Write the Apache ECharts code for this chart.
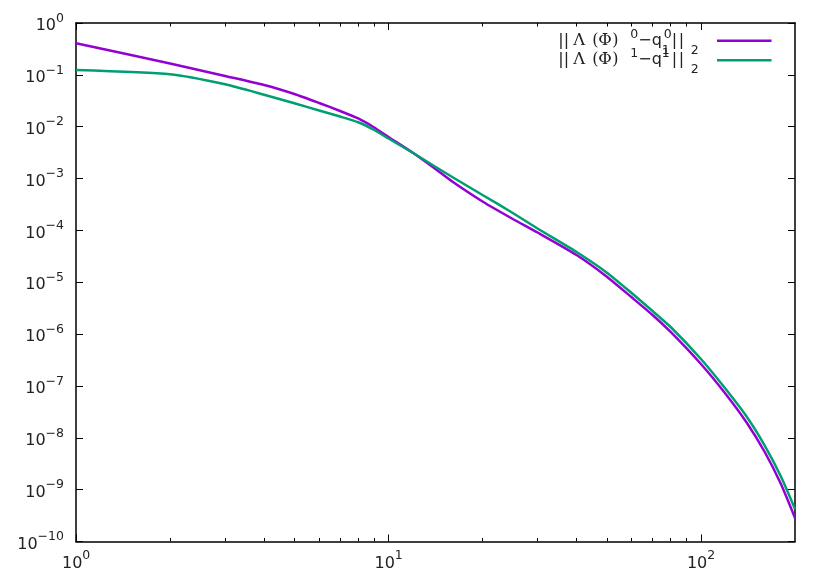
<!DOCTYPE html>
<html>
<head>
<meta charset="utf-8">
<title>convergence</title>
<script src="https://cdn.jsdelivr.net/npm/echarts@6/dist/echarts.min.js"></script>
<style>
  html, body { margin: 0; padding: 0; background: #fff; }
  #chart { width: 830px; height: 581px; }
</style>
</head>
<body>
<div id="chart"></div>
<script>
  var nVals = [1, 2, 3, 4, 5, 6, 7, 8, 9, 10, 12, 14, 16, 20, 25, 30, 40, 50, 60, 70, 80, 100, 120, 140, 160, 180, 200];
  // ||Λ(Φ)^0 - q_1^0||_2
  var err0 = [0.406, 0.1655, 0.095, 0.0637, 0.0427, 0.02865, 0.0201, 0.0144, 0.00965, 0.00633, 0.00311, 0.0016, 8.77e-4, 3.61e-4, 1.66e-4, 9.11e-5, 3.35e-5, 1.28e-5, 5.13e-6, 2.34e-6, 1.1e-6, 2.65e-7, 6.99e-8, 1.97e-8, 5.32e-9, 1.31e-9, 2.84e-10];
  // ||Λ(Φ)^1 - q^1||_2
  var err1 = [0.1241, 0.1025, 0.0657, 0.0414, 0.0283, 0.0205, 0.0157, 0.0122, 0.00864, 0.00592, 0.00311, 0.00175, 0.00107, 4.82e-4, 2.17e-4, 1.09e-4, 3.83e-5, 1.53e-5, 6.2e-6, 2.79e-6, 1.37e-6, 3.31e-7, 8.73e-8, 2.58e-8, 7.1e-9, 1.83e-9, 4.23e-10];

  // tick positions
  var xTicks = [1, 10, 100];
  var xMinorTicks = [2, 3, 4, 5, 6, 7, 8, 9, 20, 30, 40, 50, 60, 70, 80, 90];
  var yTicks = [1e-10, 1e-9, 1e-8, 1e-7, 1e-6, 1e-5, 1e-4, 1e-3, 1e-2, 1e-1, 1];

  var font = 'DejaVu Sans';
  var serif = 'DejaVu Serif';
  var black = '#000';
  var txt = '#222';

  function pair(xs, ys) {
    return xs.map(function (x, i) { return [x, ys[i]]; });
  }

  // 10^k style label, h is an invisible spacer that sets the line height
  function powLabel(v) {
    var e = Math.round(Math.log(v) / Math.LN10);
    var s = e < 0 ? '\u2212' + (-e) : '' + e;
    return '{h| }{b|10}{s|' + s + '}';
  }

  var labelRich = {
    h: { fontFamily: font, fontSize: 1, lineHeight: 22 },
    b: { fontFamily: font, fontSize: 16, lineHeight: 16, color: txt, verticalAlign: 'bottom' },
    s: { fontFamily: font, fontSize: 12.5, lineHeight: 12.5, color: txt, verticalAlign: 'top' }
  };

  function xAxisCfg(pos, values, len, withLine, withLabel) {
    return {
      type: 'log', position: pos, min: 1, max: 200, logBase: 10,
      axisLine: { show: withLine, onZero: false, lineStyle: { color: black, width: 1.5 } },
      axisTick: { show: true, inside: true, length: len, customValues: values, lineStyle: { color: black, width: 1 } },
      axisLabel: withLabel ? { show: true, customValues: values, margin: 8, formatter: powLabel, rich: labelRich } : { show: false },
      splitLine: { show: false }
    };
  }

  function yAxisCfg(pos, withLabel) {
    return {
      type: 'log', position: pos, min: 1e-10, max: 1, logBase: 10,
      axisLine: { show: true, onZero: false, lineStyle: { color: black, width: 1.5 } },
      axisTick: { show: true, inside: true, length: 7, customValues: yTicks, lineStyle: { color: black, width: 1 } },
      axisLabel: withLabel ? { show: true, customValues: yTicks, margin: 12, formatter: powLabel, rich: labelRich } : { show: false },
      splitLine: { show: false }
    };
  }

  // key text, widths spread the glyphs like gnuplot does
  var legendRich = {
    h: { fontFamily: font, fontSize: 1, lineHeight: 32.5 },
    bb: { fontFamily: font, fontSize: 16, lineHeight: 16, width: 15, fill: txt },
    gl: { fontFamily: serif, fontSize: 16.5, lineHeight: 16, width: 19, fill: txt },
    gp: { fontFamily: serif, fontSize: 16, lineHeight: 16, width: 6, fill: txt },
    gf: { fontFamily: serif, fontSize: 16.5, lineHeight: 16, width: 14, fill: txt },
    gq: { fontFamily: serif, fontSize: 16, lineHeight: 16, width: 18, fill: txt },
    b: { fontFamily: font, fontSize: 16, lineHeight: 16, fill: txt },
    s: { fontFamily: font, fontSize: 12.5, lineHeight: 12.5, padding: [3, 0, 0, 0], fill: txt, verticalAlign: 'top' },
    sw: { fontFamily: font, fontSize: 12.5, lineHeight: 12.5, width: 10, padding: [3, 0, 0, 0], fill: txt, verticalAlign: 'top' },
    uz: { fontFamily: font, fontSize: 12.5, lineHeight: 12.5, width: 2, fill: txt, verticalAlign: 'bottom' },
    u: { fontFamily: font, fontSize: 12.5, lineHeight: 12.5, fill: txt, verticalAlign: 'bottom' },
    bar: { fontFamily: font, fontSize: 16, lineHeight: 16, width: 7, fill: txt },
    barw: { fontFamily: font, fontSize: 16, lineHeight: 16, width: 12, fill: txt }
  };

  var label0 = '{h| }{bb|||}{gl|Λ}{gp|(}{gf|Φ}{gq|)}{s|0}{b|\u2212q}{uz|1}{s|0}{bar||}{barw||}{u|2}';
  var label1 = '{h| }{bb|||}{gl|Λ}{gp|(}{gf|Φ}{gq|)}{s|1}{b|\u2212q}{sw|1}{bar||}{barw||}{u|2}';

  var chart = echarts.init(document.getElementById('chart'), null, { renderer: 'canvas' });
  chart.setOption({
    animation: false,
    backgroundColor: '#fff',
    grid: { left: 76, right: 35, top: 23, bottom: 39.5, containLabel: false },
    xAxis: [
      xAxisCfg('bottom', xTicks, 7, true, true),
      xAxisCfg('bottom', xMinorTicks, 3.5, false, false),
      xAxisCfg('top', xTicks, 7, true, false),
      xAxisCfg('top', xMinorTicks, 3.5, false, false)
    ],
    yAxis: [
      yAxisCfg('left', true),
      yAxisCfg('right', false)
    ],
    series: [
      {
        name: '||Λ(Φ)^0-q_1^0||_2', type: 'line', xAxisIndex: 0, yAxisIndex: 0,
        data: pair(nVals, err0), showSymbol: false, smooth: 0.2,
        lineStyle: { color: '#9400d3', width: 2.5 }, itemStyle: { color: '#9400d3' }
      },
      {
        name: '||Λ(Φ)^1-q^1||_2', type: 'line', xAxisIndex: 0, yAxisIndex: 0,
        data: pair(nVals, err1), showSymbol: false, smooth: 0.2,
        lineStyle: { color: '#009e73', width: 2.5 }, itemStyle: { color: '#009e73' }
      }
    ],
    // gnuplot style key, top right inside the frame
    graphic: [
      { type: 'text', x: 558, y: 41, style: { text: label0, rich: legendRich, align: 'left', verticalAlign: 'middle', fill: txt, font: '16px ' + font } },
      { type: 'text', x: 558, y: 60, style: { text: label1, rich: legendRich, align: 'left', verticalAlign: 'middle', fill: txt, font: '16px ' + font } },
      { type: 'line', shape: { x1: 717, y1: 40.7, x2: 771.5, y2: 40.7 }, style: { stroke: '#9400d3', lineWidth: 2.5 } },
      { type: 'line', shape: { x1: 717, y1: 60.3, x2: 771.5, y2: 60.3 }, style: { stroke: '#009e73', lineWidth: 2.5 } }
    ]
  });
</script>
</body>
</html>
